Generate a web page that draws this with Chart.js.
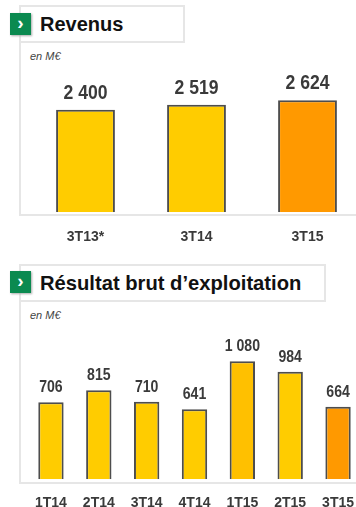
<!DOCTYPE html>
<html lang="fr">
<head>
<meta charset="utf-8">
<title>Revenus et résultat brut d'exploitation</title>
<script src="https://cdn.jsdelivr.net/npm/chart.js@4"></script>
<style>
  html, body { margin: 0; padding: 0; width: 356px; height: 507px; overflow: hidden; background: #fff; }
  body { position: relative; font-family: "Liberation Sans", Arial, sans-serif; }
  .frame { position: absolute; left: 19px; width: 337px; border-left: 2px solid #e6e6e6; border-bottom: 2px solid #e6e6e6; box-sizing: border-box; }
  .head { position: absolute; left: 19px; height: 38px; box-sizing: border-box; border: 2px solid #e6e6e6; background: #fff;
          font-weight: bold; font-size: 20px; line-height: 34px; padding-left: 19px; color: #111; white-space: nowrap; }
  .btn { position: absolute; left: 10px; width: 21px; height: 22px; background: #0b8a50; color: #fff; font-weight: bold;
         font-size: 19px; line-height: 19px; text-align: center; box-shadow: 1px 1px 2px #aaa; }
  .unit { position: absolute; left: 30px; font-style: italic; font-size: 11px; color: #444; }
  canvas { position: absolute; }
</style>
</head>
<body>
<div class="frame" style="top:40px;height:176px"></div>
<div class="head" style="top:5px;width:166px">Revenus</div>
<div class="btn" style="top:13px">›</div>
<div class="unit" style="top:50px">en M€</div>
<canvas id="revenue-chart" width="333" height="195" style="left:29.5px;top:60px"></canvas>

<div class="frame" style="top:300px;height:184px"></div>
<div class="head" style="top:264px;width:307px;font-size:20.2px">Résultat brut d’exploitation</div>
<div class="btn" style="top:271px">›</div>
<div class="unit" style="top:309px">en M€</div>
<canvas id="ebitda-chart" width="335" height="200" style="left:27.3px;top:320px"></canvas>

<script>
const revenueLabels = ["3T13*", "3T14", "3T15"];
const revenueValues = [2400, 2519, 2624];
const revenueColors = ["#FFCC00", "#FFCC00", "#FF9900"];

const ebitdaLabels = ["1T14", "2T14", "3T14", "4T14", "1T15", "2T15", "3T15"];
const ebitdaValues = [706, 815, 710, 641, 1080, 984, 664];
const ebitdaColors = ["#FFCC00", "#FFCC00", "#FFCC00", "#FFCC00", "#FFC000", "#FFCC00", "#FF9900"];

// french style thousands: 2 400
const formatValue = (v) => String(v).replace(/\B(?=(\d{3})+$)/g, " ");

// value labels above the bars, squeezed because there is no narrow font here
const valueLabels = {
  id: "valueLabels",
  afterDatasetsDraw(chart, args, opts) {
    const ctx = chart.ctx;
    ctx.fillStyle = "#3a3a3a";
    chart.getDatasetMeta(0).data.forEach((bar, i) => {
      ctx.save();
      ctx.font = opts.font;
      ctx.textAlign = "center";
      ctx.textBaseline = "alphabetic";
      ctx.translate(bar.x, bar.y - opts.gap);
      ctx.scale(0.88, 1);
      ctx.fillText(formatValue(chart.data.datasets[0].data[i]), 0, 0);
      ctx.restore();
    });
  },
};

const makeChart = (canvas, labels, values, colors, yMax, labelFont, gap, tickPad) =>
  new Chart(canvas, {
    type: "bar",
    data: {
      labels: labels,
      datasets: [{
        data: values,
        backgroundColor: colors,
        borderColor: "#4d4d4d",
        borderWidth: 2,
        barPercentage: 0.53,
        categoryPercentage: 1,
      }],
    },
    options: {
      responsive: false,
      animation: false,
      layout: { padding: 0, autoPadding: false },
      plugins: {
        legend: { display: false },
        tooltip: { enabled: false },
        valueLabels: { font: labelFont, gap: gap },
      },
      scales: {
        y: { display: false, min: 0, max: yMax },
        x: {
          grid: { display: false },
          border: { display: false },
          ticks: {
            color: "#3a3a3a",
            maxRotation: 0,
            autoSkip: false,
            padding: tickPad,
            font: { family: "Liberation Sans", weight: "bold", size: 14 },
          },
        },
      },
    },
    plugins: [valueLabels],
  });

makeChart(document.getElementById("revenue-chart"), revenueLabels, revenueValues, revenueColors,
  3566, "bold 20px 'Liberation Sans'", 11, 9);
makeChart(document.getElementById("ebitda-chart"), ebitdaLabels, ebitdaValues, ebitdaColors,
  1459, "bold 16px 'Liberation Sans'", 10, 8);
</script>
</body>
</html>
